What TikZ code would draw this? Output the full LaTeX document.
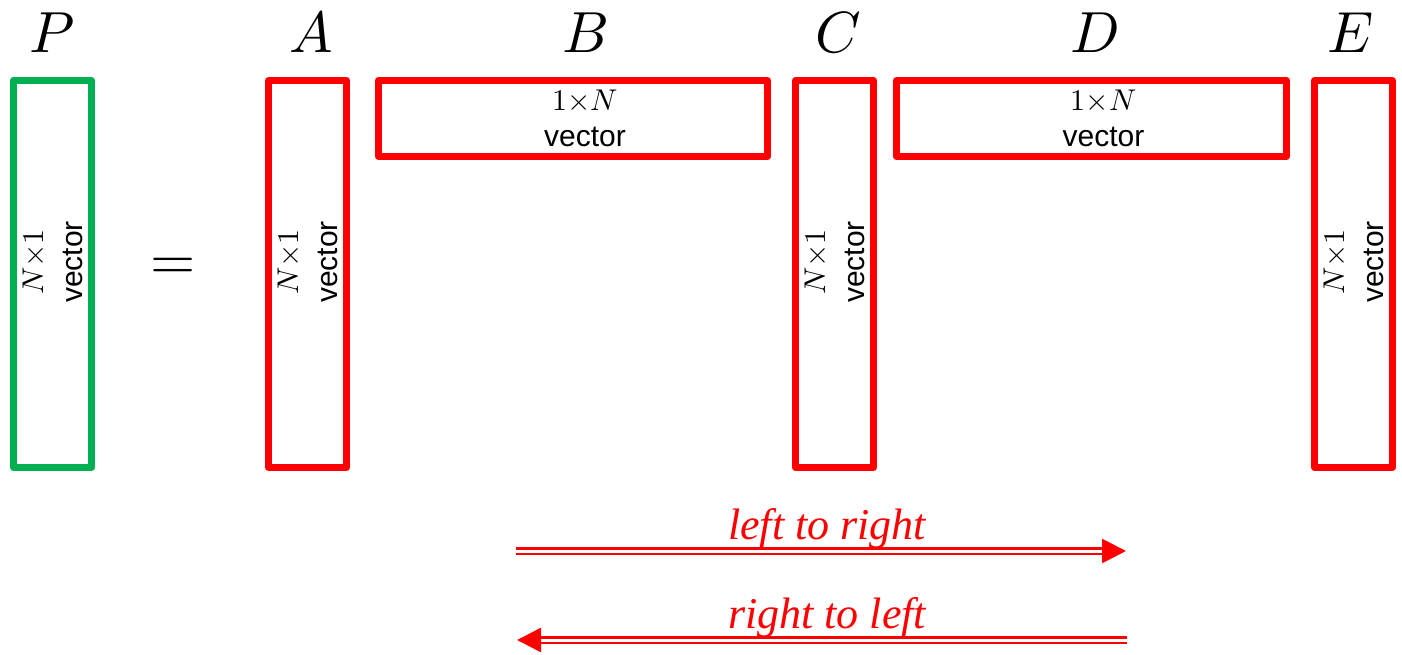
\documentclass[tikz,border=0pt]{standalone}
\usepackage{fontspec}
\usepackage{unicode-math}
\setmainfont{Liberation Sans}
\setmathfont{Latin Modern Math}
\newfontfamily\timesfont{Liberation Serif}
\usetikzlibrary{arrows.meta}
\definecolor{boxgreen}{RGB}{0,176,80}
\definecolor{boxred}{RGB}{255,0,0}
\begin{document}
\begin{tikzpicture}[x=1pt,y=-1pt,
  vbox/.style={draw=boxred, line width=7pt, line join=round, minimum width=78pt, minimum height=387pt, inner sep=0pt},
  hbox/.style={draw=boxred, line width=7pt, line join=round, minimum height=76pt, inner sep=0pt},
  vtext/.style={rotate=90, align=center, inner sep=0pt, font=\fontsize{30}{39}\selectfont},
  htext/.style={align=center, inner sep=0pt, font=\fontsize{30}{36}\selectfont},
  letter/.style={anchor=base, inner sep=0pt, font=\fontsize{58}{60}\selectfont},
  arrowlabel/.style={anchor=base, inner sep=0pt, text=boxred, font=\fontsize{44}{48}\timesfont\itshape},
  dblarrow/.style={draw=boxred, double=white, double distance=3pt, line width=2.7pt, -{Triangle[length=24pt,width=24pt]}}
]
\useasboundingbox (0,0) rectangle (1402,655);

% boxes
\node[vbox, draw=boxgreen] (P) at (52.5,274) {};
\node[vbox] (A) at (307.5,274) {};
\node[hbox, minimum width=389pt] (B) at (573,118.5) {};
\node[vbox] (C) at (834.5,274) {};
\node[hbox, minimum width=390pt] (D) at (1091.5,118.5) {};
\node[vbox] (E) at (1353.5,274) {};

% box texts
\node[vtext] (Pt) at ([yshift=12pt]P.center) {$N{\times}1$\\vector};
\node[vtext] (At) at ([yshift=12pt]A.center) {$N{\times}1$\\vector};
\node[vtext] (Ct) at ([yshift=12pt]C.center) {$N{\times}1$\\vector};
\node[vtext] (Et) at ([yshift=12pt]E.center) {$N{\times}1$\\vector};
\node[htext] (Bt) at ([xshift=12pt]B.center) {$1{\times}N$\\vector};
\node[htext] (Dt) at ([xshift=12pt]D.center) {$1{\times}N$\\vector};

% letters
\node[letter] (Pl) at (52,53) {$P$};
\node[letter] (Al) at (311,53) {$A$};
\node[letter] (Bl) at (585,53) {$B$};
\node[letter] (Cl) at (838,53) {$C$};
\node[letter] (Dl) at (1095,53) {$D$};
\node[letter] (El) at (1350,53) {$E$};

% equals
\node[anchor=base, inner sep=0pt, font=\fontsize{58}{60}\selectfont] (eq) at (173.5,279.5) {$=$};

% arrows
\coordinate (l1) at (516,551);
\coordinate (r1) at (1126,551);
\coordinate (r2) at (1127,640);
\coordinate (l2) at (517,640);
\draw[dblarrow] (l1) -- (r1);
\draw[dblarrow] (r2) -- (l2);
\node[arrowlabel] (lr) at (827,539) {left to right};
\node[arrowlabel] (rl) at (827,628) {right to left};
\end{tikzpicture}
\end{document}
